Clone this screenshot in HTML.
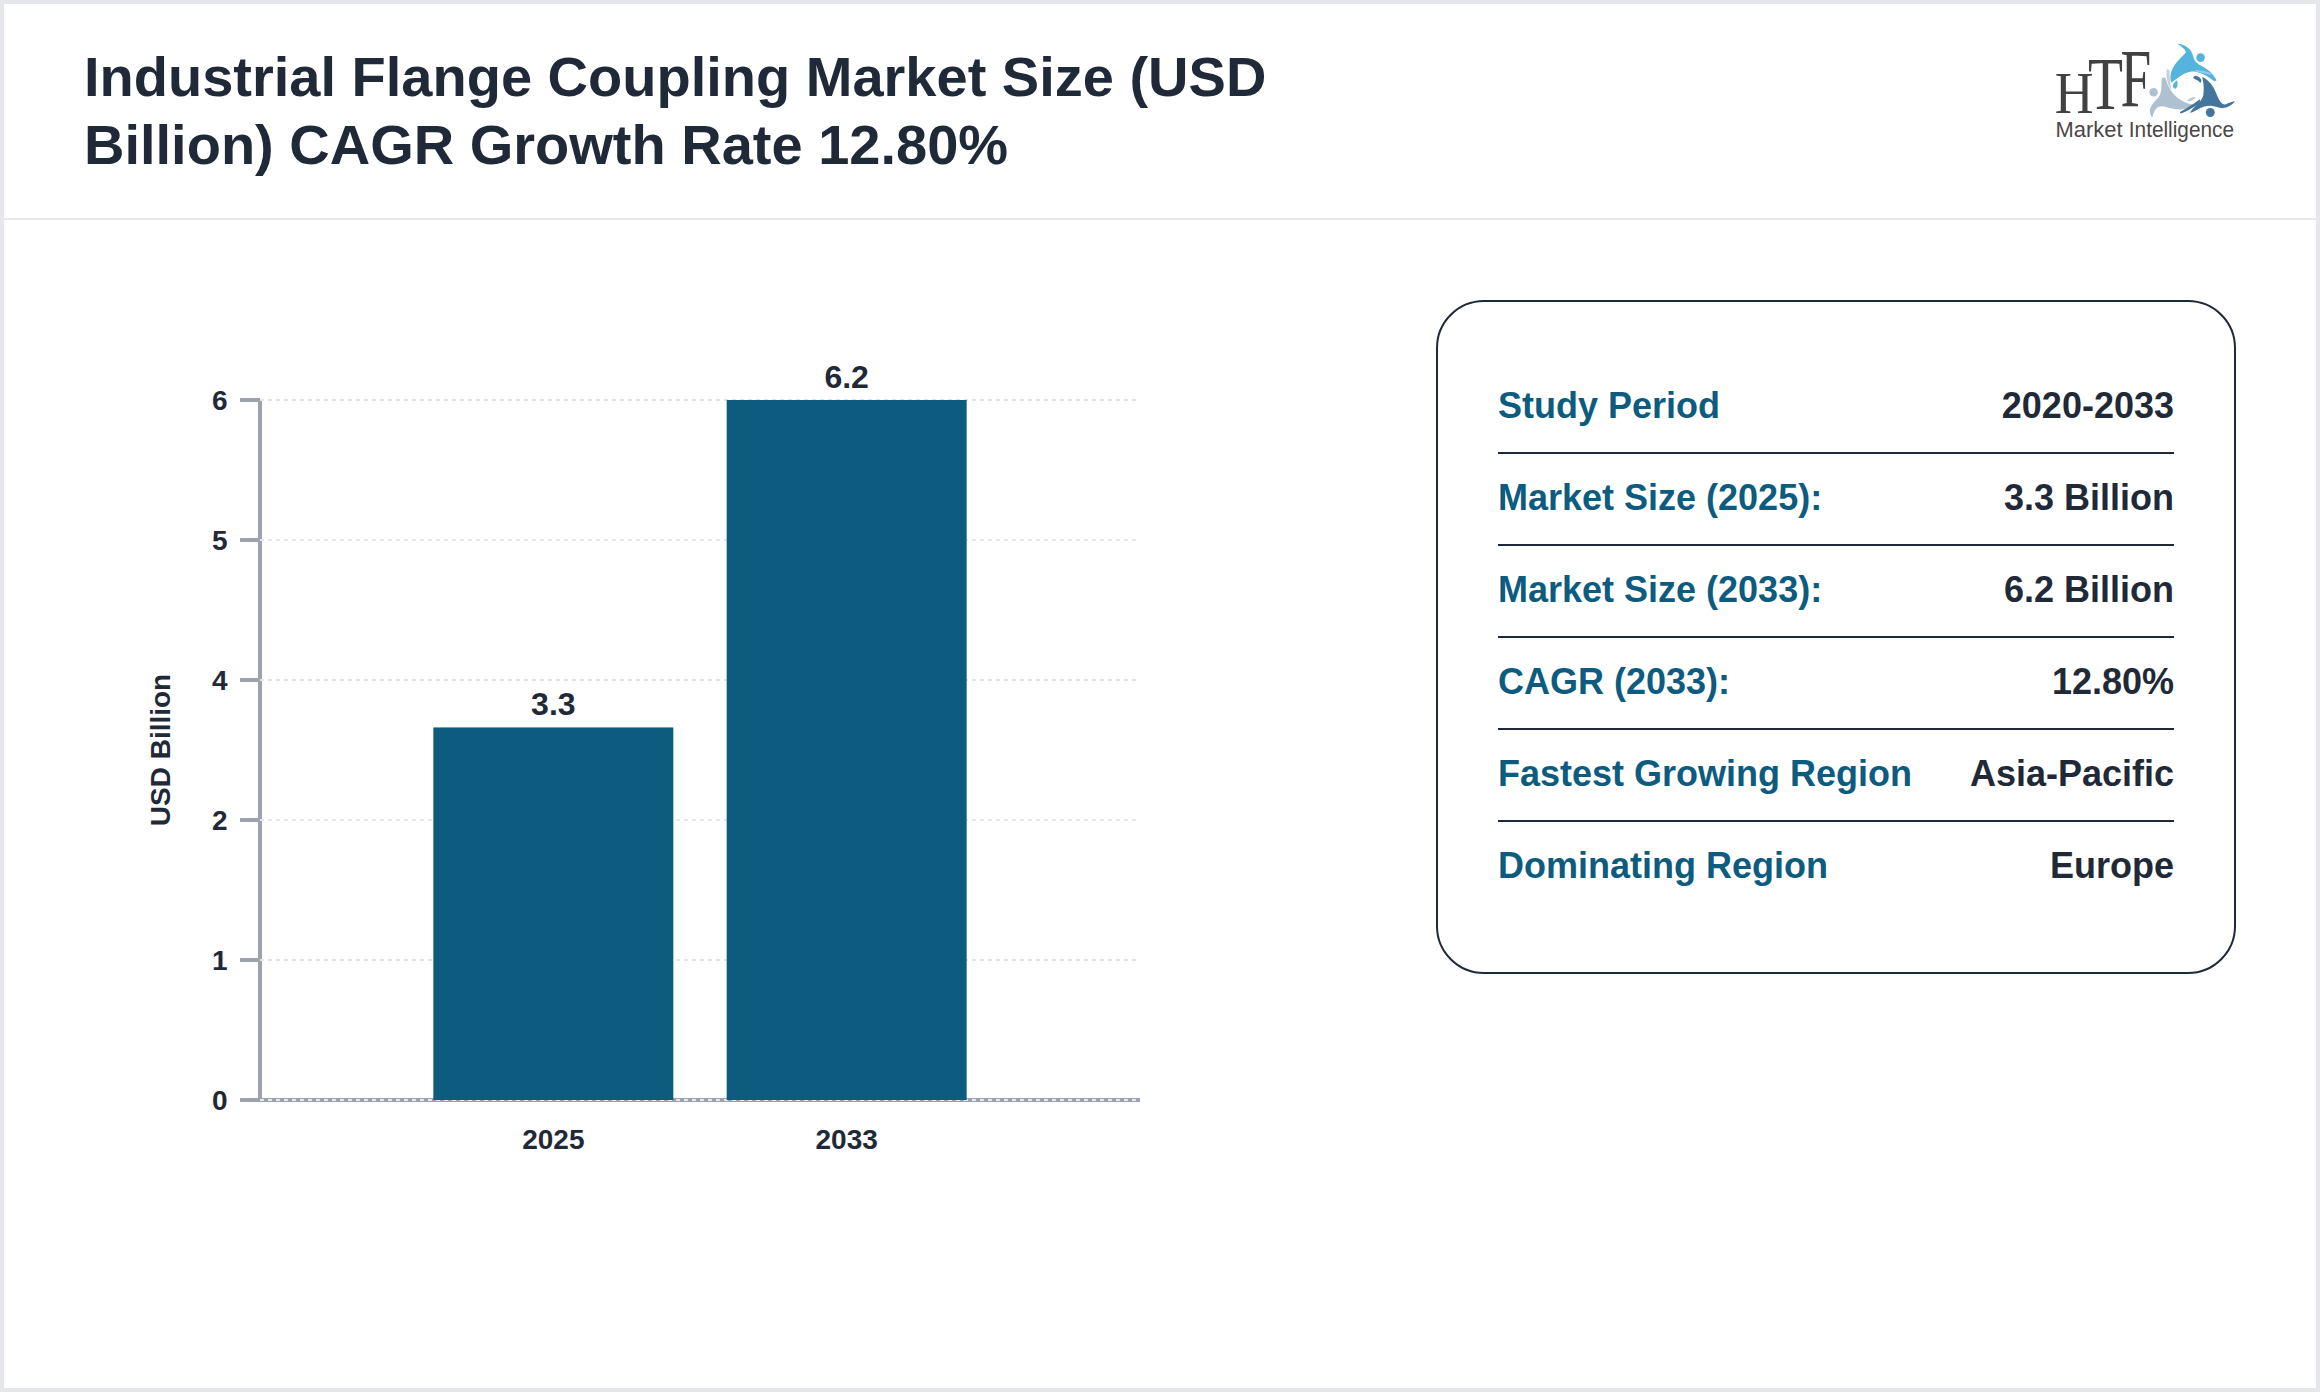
<!DOCTYPE html>
<html lang="en">
<head>
<meta charset="utf-8">
<title>Industrial Flange Coupling Market Size (USD Billion) CAGR Growth Rate 12.80%</title>
<style>
  html, body { margin: 0; padding: 0; }
  body {
    width: 2320px; height: 1392px; overflow: hidden; background: #ffffff;
    font-family: "Liberation Sans", Arial, Helvetica, sans-serif;
    color: #1f2937; position: relative;
  }
  .frame {
    position: absolute; left: 0; top: 0; width: 2320px; height: 1392px;
    box-sizing: border-box; border: 4px solid #e5e7eb; background: #ffffff;
  }
  .hdr-line { position: absolute; left: 4px; top: 218px; width: 2312px; height: 2px; background: #e5e7eb; }
  h1.title {
    position: absolute; left: 84px; top: 43px; width: 1300px; margin: 0;
    font-size: 56px; line-height: 68px; font-weight: 700; color: #1f2937; white-space: nowrap;
    letter-spacing: 0;
  }
  svg { position: absolute; left: 0; top: 0; overflow: visible; }
  .chart text { font-family: "Liberation Sans", Arial, Helvetica, sans-serif; font-weight: 700; fill: #1f2937; }
  .card {
    position: absolute; left: 1436px; top: 300px; width: 800px; height: 674px;
    box-sizing: border-box; border: 2px solid #1f2937; border-radius: 48px; background: #ffffff;
  }
  .row {
    position: absolute; left: 60px; width: 676px; height: 92px;
    box-sizing: border-box; border-bottom: 2px solid #1f2937;
    font-size: 36px; font-weight: 700; line-height: 88px; white-space: nowrap;
  }
  .row.last { border-bottom: none; }
  .row .k { position: absolute; left: 0; top: 0; color: #0d5c80; }
  .row .v { position: absolute; right: 0; top: 0; color: #1f2937; }
</style>
</head>
<body>
<div class="frame"></div>
<div class="hdr-line"></div>

<h1 class="title">Industrial Flange Coupling Market Size (USD<br>Billion) CAGR Growth Rate 12.80%</h1>

<!-- LOGO -->
<svg class="logo" width="2320" height="220" viewBox="0 0 2320 220">
  <text font-family="'Liberation Serif', 'DejaVu Serif', serif" fill="#424040" aria-label="HTF"><tspan x="2054.7" y="113.3" font-size="59.2" textLength="38.82" lengthAdjust="spacingAndGlyphs">H</tspan><tspan x="2088.1" y="108.7" font-size="73.7" textLength="34.98" lengthAdjust="spacingAndGlyphs">T</tspan><tspan x="2120.5" y="105.5" font-size="83.4" textLength="30.71" lengthAdjust="spacingAndGlyphs">F</tspan></text>
  <text font-family="'Liberation Sans', Arial, sans-serif" font-size="22" fill="#4a4747"><tspan x="2055.6" y="136.5" textLength="67.03" lengthAdjust="spacingAndGlyphs">Market</tspan> <tspan x="2128.8" y="136.5" textLength="105.18" lengthAdjust="spacingAndGlyphs">Intelligence</tspan></text>
  <g transform="translate(2140 36) scale(0.063223)">
    <!-- grey figure -->
    <g fill="#afc1d1">
      <circle cx="215" cy="890" r="68"/>
      <path d="M345,665 C370,650 395,650 410,680 C430,760 470,850 540,930 C620,1010 720,1060 840,1088 C805,1118 740,1152 650,1162 C560,1166 470,1140 400,1120 C335,1102 285,1115 252,1152 C222,1195 206,1245 195,1285 C168,1270 152,1220 158,1160 C175,1090 230,1030 290,975 C320,940 335,880 340,800 C342,750 340,700 345,665 Z"/>
      <path d="M745,1020 C780,985 840,960 875,965 C880,985 850,1010 810,1025 C780,1035 755,1032 745,1020 Z" opacity="0.85"/>
      <path d="M425,530 C445,520 465,530 468,560 C470,650 475,760 500,860 C470,830 440,760 425,680 C415,620 415,570 425,530 Z" fill="#c6d1dc"/>
    </g>
    <!-- light blue figure -->
    <g fill="#55b4de">
      <circle cx="958" cy="342" r="68"/>
      <path d="M600,128 C660,125 720,150 790,215 C820,250 835,300 850,350 C870,400 900,430 960,465 C1040,510 1110,550 1150,610 C1180,650 1200,680 1210,700 C1190,720 1170,715 1150,700 C1100,660 1040,620 960,590 C900,570 860,560 820,562 C740,570 660,610 590,670 C550,700 520,725 495,735 C480,700 475,640 490,580 C510,500 570,420 650,340 C690,300 720,275 725,255 C725,225 690,195 650,165 C630,150 610,138 600,128 Z"/>
      <path d="M585,700 C600,740 600,800 570,830 C540,845 515,810 520,780 C530,750 560,720 585,700 Z"/>
      <path d="M868,537 C950,533 1050,558 1128,592 C1138,602 1128,614 1110,611 C1040,592 950,578 880,562 Z" fill="#93cfec"/>
    </g>
    <!-- dark blue figure -->
    <g fill="#44759b">
      <circle cx="1112" cy="1210" r="70"/>
      <path d="M985,650 C1060,680 1130,750 1180,850 C1215,920 1235,990 1275,1045 C1300,1080 1330,1090 1360,1080 C1400,1065 1450,1040 1500,1030 C1490,1060 1460,1085 1420,1105 C1380,1130 1330,1145 1280,1140 C1230,1130 1180,1110 1120,1105 C1050,1100 980,1125 920,1158 C880,1180 840,1203 792,1215 C800,1188 850,1138 900,1085 C950,1035 985,1000 1000,940 C1015,860 1010,760 985,650 Z"/>
      <path d="M632,1201 C720,1157 830,1090 945,1002 C962,1027 945,1056 920,1076 C840,1136 740,1193 660,1223 C640,1227 628,1215 632,1201 Z"/>
      <path d="M843,652 C858,618 932,628 962,680 C977,712 972,732 957,738 C937,722 920,706 900,697 C875,687 848,672 843,652 Z"/>
    </g>
  </g>
</svg>

<!-- CHART -->
<svg class="chart" width="2320" height="1392" viewBox="0 0 2320 1392">
  <!-- axes -->
  <g fill="#9ca3af" shape-rendering="crispEdges">
    <rect x="258" y="400" width="4" height="702"/>
    <rect x="240" y="1098" width="900" height="4"/>
    <rect x="240" y="398" width="20" height="4"/>
    <rect x="240" y="538" width="20" height="4"/>
    <rect x="240" y="678" width="20" height="4"/>
    <rect x="240" y="818" width="20" height="4"/>
    <rect x="240" y="958" width="20" height="4"/>
  </g>
  <!-- grid -->
  <g stroke="#e5e7eb" stroke-width="2" stroke-dasharray="4 4" shape-rendering="crispEdges">
    <line x1="260" y1="400" x2="1140" y2="400"/>
    <line x1="260" y1="540" x2="1140" y2="540"/>
    <line x1="260" y1="680" x2="1140" y2="680"/>
    <line x1="260" y1="820" x2="1140" y2="820"/>
    <line x1="260" y1="960" x2="1140" y2="960"/>
    <line x1="260" y1="1100" x2="1140" y2="1100"/>
  </g>
  <!-- bars -->
  <g fill="#0d5c80">
    <rect x="433.33" y="727.42" width="240" height="372.58"/>
    <rect x="726.67" y="400" width="240" height="700"/>
  </g>
  <!-- y tick labels -->
  <g font-size="28" text-anchor="end">
    <text x="227.6" y="410.3">6</text>
    <text x="227.6" y="550.3">5</text>
    <text x="227.6" y="690.3">4</text>
    <text x="227.6" y="830.3">2</text>
    <text x="227.6" y="970.3">1</text>
    <text x="227.6" y="1110.3">0</text>
  </g>
  <!-- value labels -->
  <g font-size="32" text-anchor="middle">
    <text x="553.33" y="715">3.3</text>
    <text x="846.67" y="388">6.2</text>
  </g>
  <!-- x labels -->
  <g font-size="28" text-anchor="middle">
    <text x="553.33" y="1149.4">2025</text>
    <text x="846.67" y="1149.4">2033</text>
  </g>
  <text font-size="28" text-anchor="middle" transform="translate(170.3 750) rotate(-90)">USD Billion</text>
</svg>

<!-- INFO CARD -->
<div class="card">
  <div class="row" style="top:60px"><span class="k">Study Period</span><span class="v">2020-2033</span></div>
  <div class="row" style="top:152px"><span class="k">Market Size (2025):</span><span class="v">3.3 Billion</span></div>
  <div class="row" style="top:244px"><span class="k">Market Size (2033):</span><span class="v">6.2 Billion</span></div>
  <div class="row" style="top:336px"><span class="k">CAGR (2033):</span><span class="v">12.80%</span></div>
  <div class="row" style="top:428px"><span class="k">Fastest Growing Region</span><span class="v">Asia-Pacific</span></div>
  <div class="row last" style="top:520px"><span class="k">Dominating Region</span><span class="v">Europe</span></div>
</div>
<script>
(function(){var w=window.innerWidth||2320;if(w&&Math.abs(w-2320)>1){document.documentElement.style.zoom=(w/2320);}})();
</script>
</body>
</html>
